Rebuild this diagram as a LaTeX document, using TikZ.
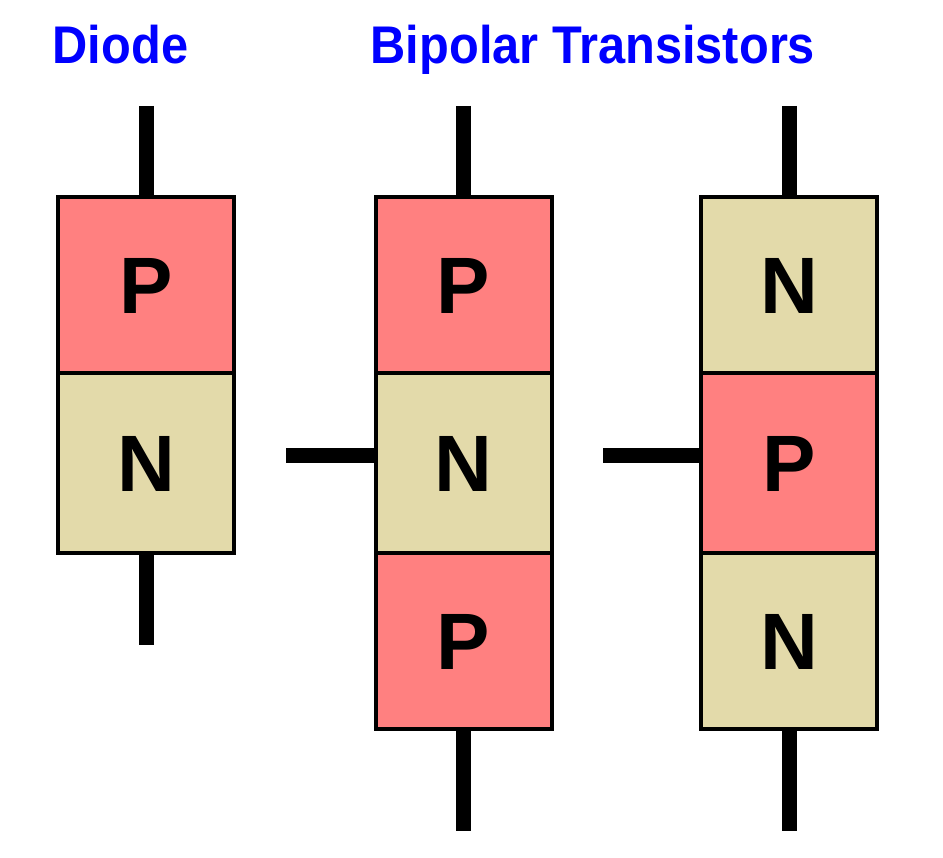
\documentclass[tikz,border=0pt]{standalone}
\usepackage{fontspec}
\setmainfont{Liberation Sans}
\newfontfamily\titlefont[FakeStretch=0.92]{Liberation Sans}
\definecolor{ptype}{RGB}{255,128,128}
\definecolor{ntype}{RGB}{227,218,170}
\definecolor{titleblue}{RGB}{0,0,255}
\begin{document}
\begin{tikzpicture}[x=1pt,y=-1pt,
  region/.style={draw=black,line width=4pt,rectangle,inner sep=0pt,
    minimum width=176pt,text height=57pt,text depth=0pt,
    font=\fontsize{80}{80}\selectfont\bfseries},
  preg/.style={region,fill=ptype},
  nreg/.style={region,fill=ntype},
  lead/.style={line width=15pt,draw=black},
  title/.style={anchor=base west,inner sep=0pt,text=titleblue,
    font=\titlefont\fontsize{53}{53}\selectfont\bfseries}]
\useasboundingbox (0,0) rectangle (943,858);
% titles
\node[title] (t1) at (52.5,64) {Diode};
\node[title] (t2) at (370.5,64) {Bipolar Transistors};
% diode
\node[preg,minimum height=176pt] (d1) at (146,285) {P};
\node[nreg,minimum height=180pt] (d2) at (146,463) {N};
\coordinate (dtop) at (146,106);
\coordinate (dbot) at (146,645);
\draw[lead] (dtop) -- (d1.north);
\draw[lead] (d2.south) -- (dbot);
% PNP
\node[preg,minimum height=176pt] (a1) at (463.5,285) {P};
\node[nreg,minimum height=180pt] (a2) at (463.5,463) {N};
\node[preg,minimum height=176pt] (a3) at (463.5,641) {P};
\coordinate (atop) at (463.5,106);
\coordinate (abot) at (463.5,831);
\coordinate (abase) at (286,455.5);
\draw[lead] (atop) -- (a1.north);
\draw[lead] (a3.south) -- (abot);
\draw[lead] (abase) -- (abase -| a2.west);
% NPN
\node[nreg,minimum height=176pt] (b1) at (789,285) {N};
\node[preg,minimum height=180pt] (b2) at (789,463) {P};
\node[nreg,minimum height=176pt] (b3) at (789,641) {N};
\coordinate (btop) at (789,106);
\coordinate (bbot) at (789,831);
\coordinate (bbase) at (603,455.5);
\draw[lead] (btop) -- (b1.north);
\draw[lead] (b3.south) -- (bbot);
\draw[lead] (bbase) -- (bbase -| b2.west);
\end{tikzpicture}
\end{document}
